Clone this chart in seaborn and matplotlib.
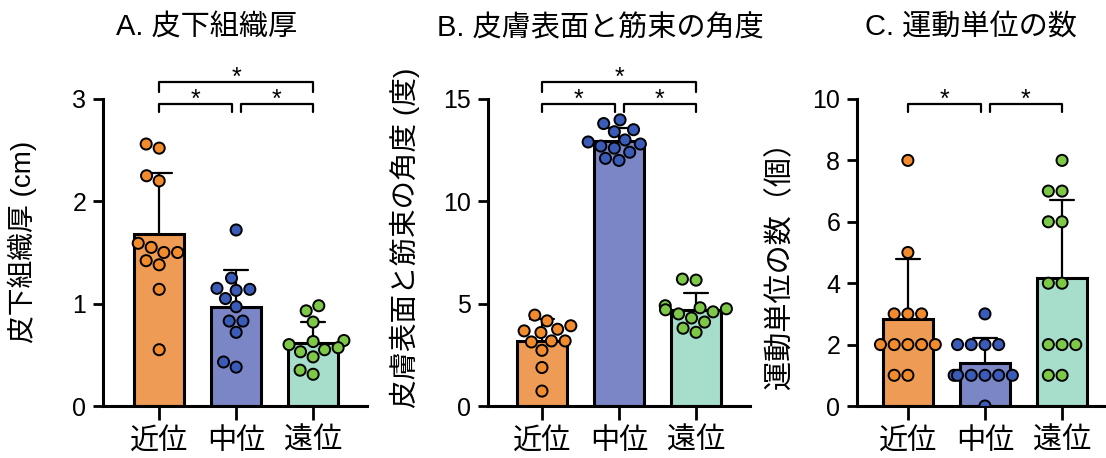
import numpy as np
import pandas as pd
import matplotlib
matplotlib.use('Agg')
import matplotlib.pyplot as plt
import seaborn as sns
from matplotlib import transforms

groups = ['近位', '中位', '遠位']

# A. subcutaneous tissue thickness (cm)
prox_a = [2.52, 2.56, 2.20, 2.25, 1.59, 1.55, 1.50, 1.50, 1.42, 1.38, 1.14, 0.55]
mid_a = [1.72, 1.25, 1.15, 1.13, 1.14, 1.05, 0.97, 0.83, 0.83, 0.72, 0.43, 0.38]
dist_a = [0.98, 0.93, 0.82, 0.64, 0.63, 0.60, 0.57, 0.55, 0.53, 0.48, 0.35, 0.31]

# B. angle between skin surface and fascicle (deg)
prox_b = [4.44, 4.16, 3.92, 3.75, 3.67, 3.59, 3.18, 3.18, 3.13, 2.72, 1.88, 0.73]
mid_b = [13.98, 13.8, 13.5, 13.4, 13.0, 12.9, 12.8, 12.7, 12.6, 12.4, 12.1, 12.0]
dist_b = [6.2, 6.15, 4.9, 4.8, 4.75, 4.7, 4.6, 4.5, 4.3, 4.1, 3.8, 3.6]

# C. number of motor units
prox_c = [8, 5, 3, 3, 3, 2, 2, 2, 2, 2, 1, 1]
mid_c = [3, 2, 2, 2, 2, 1, 1, 1, 1, 1, 1, 0]
dist_c = [8, 7, 7, 6, 6, 4, 4, 2, 2, 2, 1, 1]

bar_colors = ['#EE9B55', '#7B86C6', '#A6DECB']
dot_colors = ['#F28B2C', '#3A5CB8', '#7DC847']

sns.set_style('ticks')
plt.rcParams['font.family'] = ['Liberation Sans', 'Noto Sans CJK JP']
plt.rcParams['axes.linewidth'] = 2.2
for key in ['text.color', 'axes.labelcolor', 'axes.edgecolor', 'xtick.color', 'ytick.color']:
    plt.rcParams[key] = 'black'


def bracket(ax, x1, x2, y, leg):
    trans = transforms.blended_transform_factory(ax.transData, ax.transAxes)
    ax.plot([x1, x1, x2, x2], [y - leg, y, y, y - leg], transform=trans,
            color='black', lw=1.6, clip_on=False)
    ax.text((x1 + x2) / 2, y - 0.008, '*', transform=trans, ha='center',
            va='baseline', fontsize=18, clip_on=False)


def panel(ax, values, ylim, yticks, ylabel, xlim, label_pos, label_size=20, full=True):
    df = pd.DataFrame({'group': np.repeat(groups, 12),
                       'value': np.concatenate(values)})
    sns.barplot(data=df, x='group', y='value', hue='group', order=groups,
                palette=bar_colors, saturation=1, errorbar='sd', capsize=0.32,
                width=0.65, edgecolor='black', linewidth=2.2, legend=False,
                err_kws={'color': 'black', 'linewidth': 1.6, 'zorder': 0.5},
                ax=ax)
    sns.swarmplot(data=df, x='group', y='value', hue='group', order=groups,
                  palette=dot_colors, size=8, edgecolor='black', linewidth=1.4,
                  legend=False, zorder=3, ax=ax)
    ax.set_ylim(*ylim)
    ax.set_yticks(yticks)
    ax.set_xlim(*xlim)
    ax.set_xlabel('')
    ax.set_ylabel(ylabel, fontsize=label_size)
    ax.yaxis.label.set_verticalalignment('center')
    ax.yaxis.set_label_coords(*label_pos)
    sns.despine(ax=ax)
    ax.tick_params(axis='y', length=7, width=2, pad=5, labelsize=18)
    ax.tick_params(axis='x', length=10, width=2, pad=5, labelsize=21)
    bracket(ax, 0, 0.95, 0.984, 0.026)
    bracket(ax, 1.06, 2, 0.984, 0.026)
    if full:
        bracket(ax, 0, 2, 1.055, 0.032)


fig = plt.figure(figsize=(11.06, 4.58), dpi=100)
bottom = 52 / 458
height = 307 / 458
ax_a = fig.add_axes([103 / 1106, bottom, 264 / 1106, height])
ax_b = fig.add_axes([488 / 1106, bottom, 262 / 1106, height])
ax_c = fig.add_axes([857 / 1106, bottom, 249 / 1106, height])

panel(ax_a, [prox_a, mid_a, dist_a], (0, 3), [0, 1, 2, 3],
      '皮下組織厚 (cm)', (-0.73, 2.70), (-0.307, 0.534))
panel(ax_b, [prox_b, mid_b, dist_b], (0, 15), [0, 5, 10, 15],
      '皮膚表面と筋束の角度 (度)', (-0.70, 2.70), (-0.317, 0.547), label_size=20.5)
panel(ax_c, [prox_c, mid_c, dist_c], (0, 10), [0, 2, 4, 6, 8, 10],
      '運動単位の数（個）', (-0.66, 2.57), (-0.309, 0.482), label_size=21, full=False)

fig.text(207 / 1106, 1 - 28 / 458, 'A. 皮下組織厚', ha='center', va='center', fontsize=21)
fig.text(600 / 1106, 1 - 28 / 458, 'B. 皮膚表面と筋束の角度', ha='center', va='center', fontsize=21)
fig.text(971 / 1106, 1 - 28 / 458, 'C. 運動単位の数', ha='center', va='center', fontsize=21)

fig.savefig('out.png', dpi=100)
